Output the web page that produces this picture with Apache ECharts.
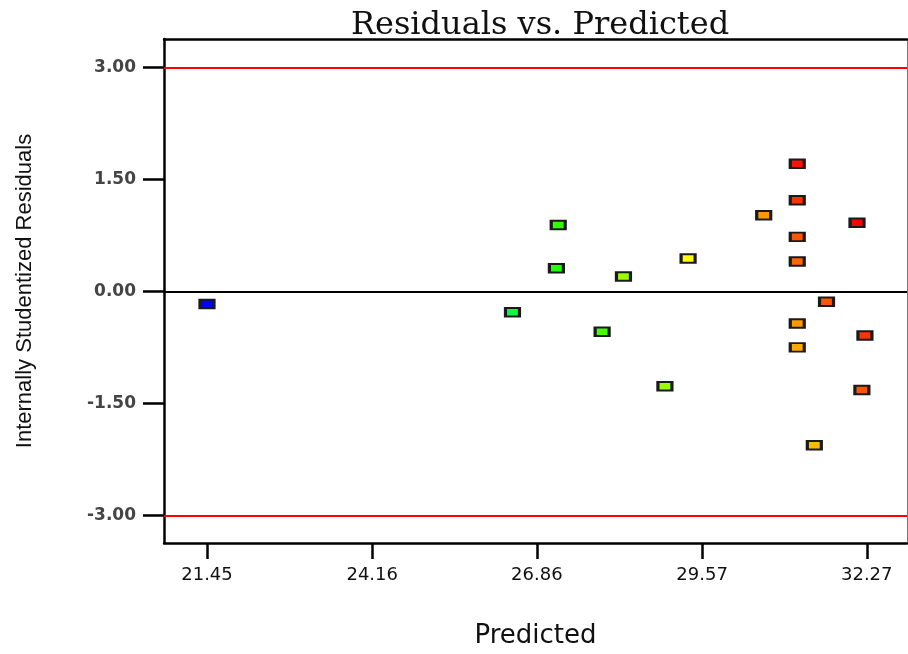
<!DOCTYPE html>
<html>
<head>
<meta charset="utf-8">
<script src="https://cdn.jsdelivr.net/npm/echarts@6/dist/echarts.min.js"></script>
<style>
html,body{margin:0;padding:0;background:#fff;}
#chart{width:908px;height:654px;}
</style>
</head>
<body>
<div id="chart"></div>
<script>
// ---- data ----
var predicted = [31.13, 31.13, 30.58, 32.11, 27.21, 31.13, 29.34, 31.13, 27.18, 28.28,
                 31.61, 26.46, 31.13, 27.93, 32.24, 31.13, 28.96, 32.19, 31.41, 21.45];
var residuals = [1.71, 1.22, 1.02, 0.92, 0.89, 0.73, 0.44, 0.40, 0.31, 0.20,
                 -0.14, -0.28, -0.43, -0.54, -0.59, -0.75, -1.27, -1.32, -2.06, -0.17];
var xTickLabels = ['21.45', '24.16', '26.86', '29.57', '32.27'];
var yTickLabels = ['-3.00', '-1.50', '0.00', '1.50', '3.00'];
var limitLines = [3, -3];
var zeroLine = [0];

// ---- style (point colours, by response level) ----
var pointColors = ['#ff1100', '#ff3300', '#ff9900', '#ff0000', '#33ff00', '#ff5500', '#ffff00', '#ff6600', '#22ff00', '#99ff00',
                   '#ff5500', '#00ff44', '#ff9900', '#44ff00', '#ff3300', '#ffaa00', '#99ff00', '#ff5500', '#ffbb00', '#0000ff'];

var xTickValues = xTickLabels.map(Number);
var yTickValues = yTickLabels.map(Number);

var points = predicted.map(function (p, i) {
  return { value: [p, residuals[i]], itemStyle: { color: pointColors[i] } };
});

var chart = echarts.init(document.getElementById('chart'));
var XMIN = 20.745, XMAX = 32.93, YMIN = -3.37, YMAX = 3.38;

chart.setOption({
  animation: false,
  backgroundColor: '#ffffff',
  title: {
    text: 'Residuals vs. Predicted',
    left: 535, top: 5, textAlign: 'center',
    textStyle: { fontFamily: 'DejaVu Serif', fontSize: 32, fontWeight: 'normal', color: '#111' }
  },
  grid: { left: 164, right: 1, top: 39, bottom: 110, containLabel: false },
  xAxis: [{
    type: 'value', min: XMIN, max: XMAX,
    name: 'Predicted', nameLocation: 'middle', nameGap: 80,
    nameTextStyle: { fontFamily: 'DejaVu Sans', fontSize: 26, color: '#111' },
    axisLine: { show: true, onZero: false, lineStyle: { color: '#000', width: 2.5 } },
    axisTick: { show: true, inside: false, length: 16, lineStyle: { color: '#000', width: 2.5 }, customValues: xTickValues },
    axisLabel: { show: true, margin: 23, fontFamily: 'DejaVu Sans', fontSize: 18, color: '#111',
      customValues: xTickValues,
      formatter: function (v) { var i = xTickValues.indexOf(v); return i >= 0 ? xTickLabels[i] : ''; } },
    splitLine: { show: false }
  }, {
    type: 'value', position: 'top', min: XMIN, max: XMAX,
    axisLine: { show: true, onZero: false, lineStyle: { color: '#000', width: 2.5 } },
    axisTick: { show: false }, axisLabel: { show: false }, splitLine: { show: false }
  }],
  yAxis: [{
    type: 'value', min: YMIN, max: YMAX,
    name: 'Internally Studentized Residuals', nameLocation: 'middle', nameGap: 128, nameRotate: 90,
    nameTextStyle: { fontFamily: 'Liberation Sans', fontSize: 22, color: '#111' },
    axisLine: { show: true, onZero: false, lineStyle: { color: '#000', width: 2.5 } },
    axisTick: { show: true, inside: false, length: 21, lineStyle: { color: '#000', width: 2.5 }, customValues: yTickValues },
    axisLabel: { show: true, margin: 28, fontFamily: 'DejaVu Sans', fontSize: 17, fontWeight: 'bold', color: '#444',
      customValues: yTickValues,
      formatter: function (v) { return v.toFixed(2); } },
    splitLine: { show: false }
  }, {
    type: 'value', position: 'right', min: YMIN, max: YMAX,
    axisLine: { show: true, onZero: false, lineStyle: { color: '#777', width: 1 } },
    axisTick: { show: false }, axisLabel: { show: false }, splitLine: { show: false }
  }],
  series: [{
    type: 'scatter',
    xAxisIndex: 0, yAxisIndex: 0,
    symbol: 'rect',
    symbolSize: [14, 8.5],
    itemStyle: { borderColor: '#1a1a1a', borderWidth: 2.5, opacity: 1 },
    data: points,
    z: 5,
    markLine: {
      silent: true, symbol: 'none', label: { show: false }, animation: false,
      data: limitLines.map(function (v) { return { yAxis: v, lineStyle: { color: '#ff0000', width: 2, type: 'solid' } }; })
        .concat(zeroLine.map(function (v) { return { yAxis: v, lineStyle: { color: '#000', width: 2, type: 'solid' } }; }))
    }
  }]
});
</script>
</body>
</html>
